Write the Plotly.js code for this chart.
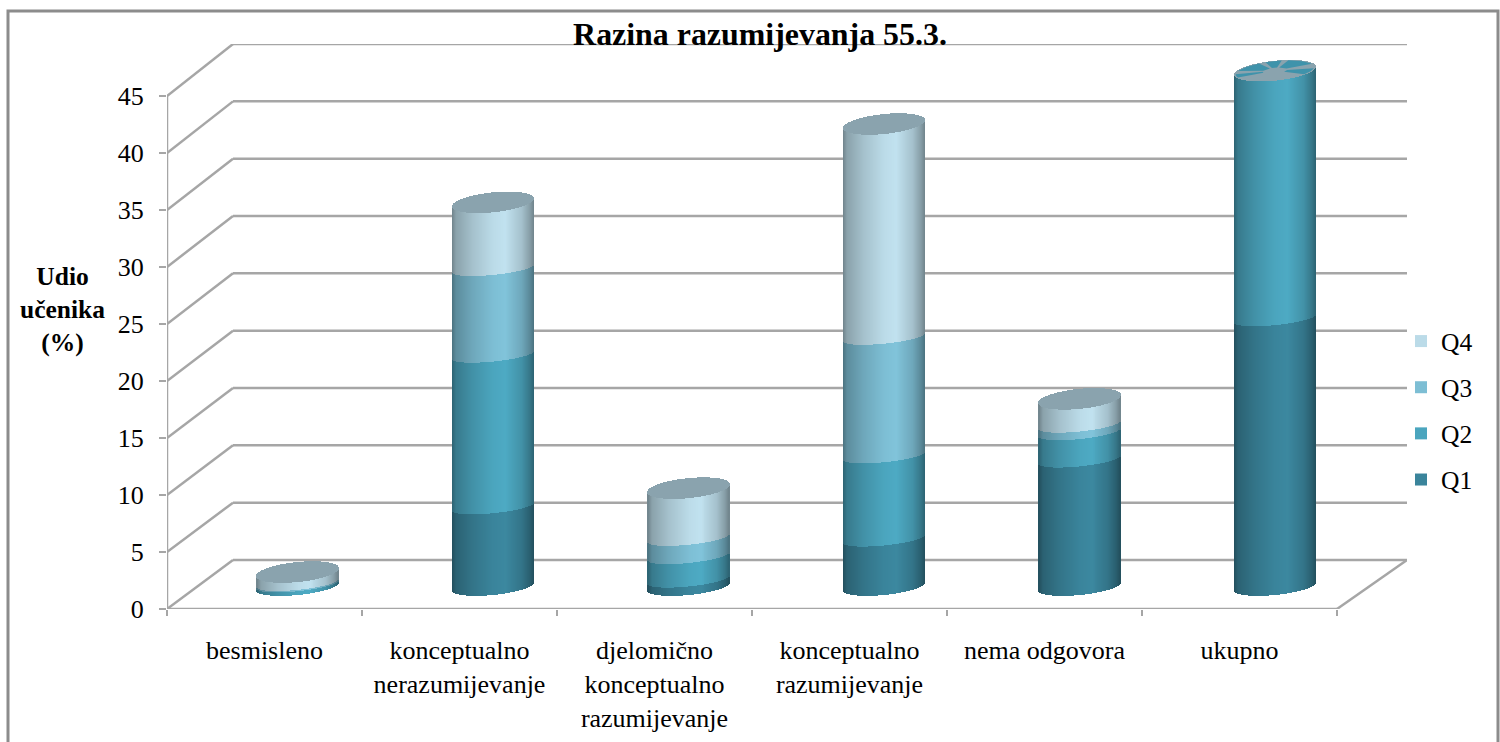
<!DOCTYPE html>
<html>
<head>
<meta charset="utf-8">
<script src="https://cdn.plot.ly/plotly-3.0.1.min.js"></script>
<style>html,body{margin:0;padding:0;background:#fff}#chart{width:1500px;height:742px}</style>
</head>
<body>
<div id="chart"></div>
<script>
// ---- data ----
const categories = ["besmisleno", "konceptualno<br>nerazumijevanje", "djelomično<br>konceptualno<br>razumijevanje", "konceptualno<br>razumijevanje", "nema odgovora", "ukupno"];
const Q1 = [0, 7.0, 0.57, 4.17, 11.1, 23.5];
const Q2 = [0.15, 13.3, 2.06, 7.3, 2.4, 21.75];
const Q3 = [0.12, 7.6, 1.6, 10.4, 0.66, 0];
const Q4 = [1.0, 5.8, 4.4, 18.7, 2.3, 0];
const yTicks = [0, 5, 10, 15, 20, 25, 30, 35, 40, 45];

// ---- styles ----
const seriesList = [
  {name: "Q1", values: Q1, rgb: [58, 132, 155]},
  {name: "Q2", values: Q2, rgb: [75, 165, 190]},
  {name: "Q3", values: Q3, rgb: [125, 190, 212]},
  {name: "Q4", values: Q4, rgb: [187, 219, 232]}
];
const FONT = "Liberation Serif, Times New Roman, serif";
const GRID = "#a6a6a6";
const CAP = "#8aa3ae";
const FS = 26;

// ---- projection of the fake depth, in axis units (1 category = 195px, 1 % = 11.4px) ----
const PXX = 195, PXY = 11.4;
const depthX = 66 / PXX, depthY = 49 / PXY, backScale = 1.0058;
const xEnd = 1240 / PXX, yEnd = 565 / PXY;
const cylOffsetX = 0.669, cylBaseY = 22.5 / PXY;
const halfW = 41, strips = 82;
const tilt = 4 / PXY, arcBase = 8.5 / PXY, arcMid = 6.5 / PXY, arcTop = 10 / PXY;

function shade(u) {
  const st = [[-1, .6], [-.9, .74], [-.5, .88], [0, 1], [.3, 1.03], [.7, .88], [.9, .72], [1, .6]];
  for (let i = 1; i < st.length; i++) {
    if (u <= st[i][0]) {
      const t = (u - st[i - 1][0]) / (st[i][0] - st[i - 1][0]);
      return st[i - 1][1] + t * (st[i][1] - st[i - 1][1]);
    }
  }
  return .6;
}
function mix(rgb, s) {
  return "rgb(" + rgb.map(c => Math.min(255, Math.round(c * s))).join(",") + ")";
}

// strip positions across one cylinder; the strip with neutral shade goes first (legend swatch colour)
const stripU = [];
for (let j = 0; j < strips; j++) stripU.push((j + .5) / (strips / 2) - 1);
stripU.sort((a, b) => Math.abs(shade(a) - 1) - Math.abs(shade(b) - 1));
const centerX = i => i + cylOffsetX + i * 0.5 / PXX;
const stripX = (i, u) => centerX(i) + u * halfW / PXX;
const edge = (level, b, u) => cylBaseY + level + tilt * u - b * Math.sqrt(1 - u * u);

const grandTotals = categories.map((_, i) => seriesList.reduce((acc, s) => acc + s.values[i], 0));
const totals = categories.map(() => 0);
const traces = [];
seriesList.forEach(s => {
  const x = [], base = [], y = [], color = [], width = [];
  categories.forEach((_, i) => {
    const v = s.values[i];
    const lowLevel = totals[i], highLevel = totals[i] + v;
    const bLow = lowLevel === 0 ? arcBase : arcMid;
    const bHigh = Math.abs(highLevel - grandTotals[i]) < 1e-9 ? arcTop : arcMid;
    stripU.forEach(u => {
      const lo = edge(lowLevel, bLow, u), hi = edge(highLevel, bHigh, u);
      x.push(stripX(i, u));
      base.push(lo);
      y.push(v === 0 ? 0 : Math.max(hi - lo, 0));
      color.push(mix(s.rgb, shade(u)));
      width.push(1.25 / PXX);
    });
    totals[i] = highLevel;
  });
  traces.push({
    type: "bar", name: s.name, x, y, base, width,
    marker: {color, line: {width: 0}},
    legendgroup: s.name, hoverinfo: "skip", xaxis: "x", yaxis: "y"
  });
});
traces.reverse();

// top caps
(function () {
  const x = [], base = [], y = [], width = [];
  categories.forEach((_, i) => {
    stripU.forEach(u => {
      x.push(stripX(i, u));
      base.push(edge(totals[i], arcTop, u));
      y.push(2 * arcTop * Math.sqrt(1 - u * u));
      width.push(1.25 / PXX);
    });
  });
  traces.push({type: "bar", name: "vrh", x, y, base, width, showlegend: false,
    marker: {color: CAP, line: {width: 0}}, hoverinfo: "skip"});
})();

// z-fighting wedges on the cap of the last column
const wedges = [[20, 70], [80, 104], [114, 160], [178, 200], [-42, -8]];
(function () {
  const i = categories.length - 1, cx = centerX(i), cy = cylBaseY + totals[i];
  const wx = [], wy = [];
  const pt = (r, deg) => {
    const a = deg * Math.PI / 180;
    wx.push(cx + r * Math.cos(a) * halfW / PXX);
    wy.push(cy + r * (tilt * Math.cos(a) + arcTop * Math.sin(a)));
  };
  wedges.forEach(w => {
    pt(.3, w[0]); pt(.96, w[0]); pt(.96, (w[0] + w[1]) / 2); pt(.96, w[1]); pt(.3, w[1]);
    wx.push(null); wy.push(null);
  });
  traces.push({type: "scatter", mode: "lines", x: wx, y: wy, fill: "toself", fillcolor: "#3f93ab",
    line: {width: 0, color: "#3f93ab"}, showlegend: false, hoverinfo: "skip", name: "vrh2"});
})();

// walls
const shapes = [];
const ln = (x0, y0, x1, y1) => shapes.push({type: "line", xref: "x", yref: "y", x0, y0, x1, y1,
  layer: "below", line: {color: GRID, width: 2.5}});
yTicks.forEach(v => {
  const by = v * backScale + depthY;
  ln(0, v, depthX, by);
  ln(depthX, by, xEnd, by);
});
ln(0, 0, 0, 45);
ln(0, 0, 6, 0);
ln(6, 0, xEnd, depthY);
// outer frame
const px = p => (p - 167) / 1240, py = p => (609 - p) / 565;
shapes.push({type: "path", xref: "paper", yref: "paper",
  path: `M${px(8)},${py(745)} L${px(8)},${py(11)} L${px(1498)},${py(11)} L${px(1498)},${py(745)}`,
  line: {color: "#8c8c8c", width: 3}});

const layout = {
  width: 1500, height: 742,
  margin: {l: 167, r: 93, t: 44, b: 133, autoexpand: false},
  paper_bgcolor: "#fff", plot_bgcolor: "#fff",
  barmode: "overlay", bargap: 0,
  showlegend: true,
  font: {family: FONT, size: FS, color: "#000"},
  title: {text: "Razina razumijevanja 55.3.", font: {family: FONT, size: 31.9, weight: "bold", color: "#000"},
    x: 760 / 1500, xanchor: "center", xref: "container", y: 1 - 34 / 742, yanchor: "middle", yref: "container"},
  xaxis: {range: [0, xEnd], tickvals: [0, 1, 2, 3, 4, 5, 6], showticklabels: false, ticks: "outside",
    ticklen: 6, tickwidth: 2.5, tickcolor: GRID, showgrid: false, zeroline: false, showline: false, fixedrange: true},
  xaxis2: {range: [0, xEnd], overlaying: "x", anchor: "y", side: "bottom",
    tickvals: categories.map((_, i) => i + .5), ticktext: categories, ticks: "outside", ticklen: 18, tickcolor: "rgba(0,0,0,0)",
    tickfont: {family: FONT, size: FS, color: "#000"}, showgrid: false, zeroline: false, showline: false, fixedrange: true},
  yaxis: {range: [0, yEnd], tickvals: yTicks, ticks: "outside", ticklen: 7, tickwidth: 2.5, tickcolor: GRID, ticklabelstandoff: 10,
    tickfont: {family: FONT, size: FS, color: "#000"}, showgrid: false, zeroline: false, showline: false, fixedrange: true},
  legend: {x: px(1401), xanchor: "left", y: py(318), yanchor: "top", traceorder: "grouped", tracegroupgap: 10,
    font: {family: FONT, size: FS - 0.5, color: "#000"}, bgcolor: "rgba(0,0,0,0)", borderwidth: 0},
  annotations: [{text: "<b>Udio<br>učenika<br>(%)</b>", xref: "paper", yref: "paper", x: px(63), y: py(309),
    xanchor: "center", yanchor: "middle", showarrow: false, align: "center", font: {family: FONT, size: 25.5, color: "#000"}}],
  shapes
};

// an empty trace keeps the lower label axis alive
traces.push({type: "scatter", x: [null], y: [null], xaxis: "x2", yaxis: "y", showlegend: false, hoverinfo: "skip"});

Plotly.newPlot("chart", traces, layout, {displayModeBar: false, staticPlot: true});
</script>
</body>
</html>
